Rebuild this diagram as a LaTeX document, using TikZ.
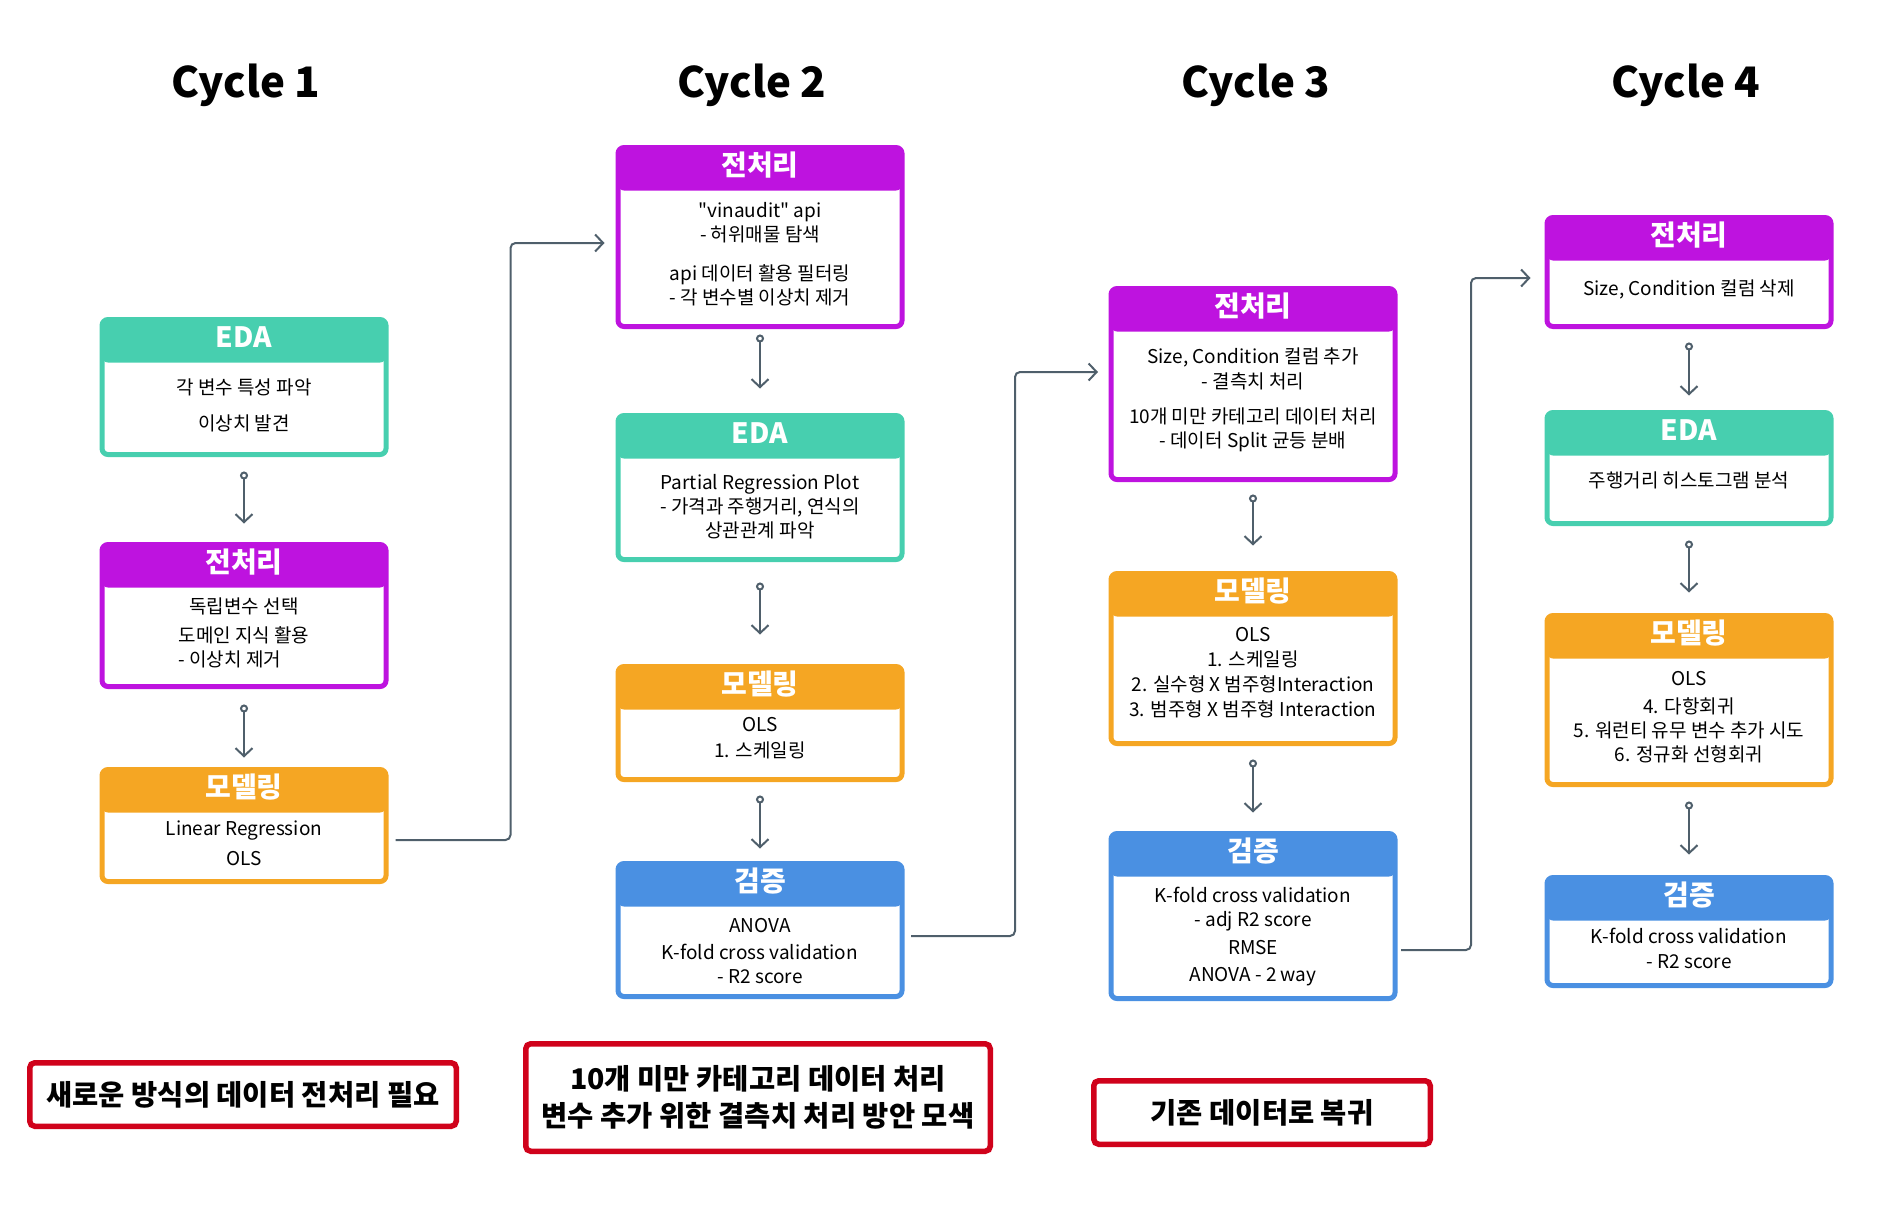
\documentclass[tikz,border=0pt]{standalone}
\usepackage{fontspec}
\setmainfont{Noto Sans CJK KR}[Ligatures=TeXOff]
\usetikzlibrary{arrows.meta}
\definecolor{edac}{HTML}{47CFAF}
\definecolor{prec}{HTML}{BE13DF}
\definecolor{modc}{HTML}{F5A623}
\definecolor{valc}{HTML}{4A90E2}
\definecolor{memoc}{HTML}{D0021B}
\definecolor{linec}{HTML}{4F5F6B}

\begin{document}
\begin{tikzpicture}[x=1pt, y=-1pt,
  box/.style={draw=#1, line width=5pt, rounded corners=6pt, minimum width=284pt, inner sep=0pt,
    path picture={\fill[#1] (path picture bounding box.north west) rectangle ([yshift=-43pt]path picture bounding box.north east);}},
  hd/.style={text=white, font=\fontsize{28}{32}\selectfont\bfseries},
  txt/.style={align=center, inner sep=0pt, font=\fontsize{19}{24}\selectfont},
  cyc/.style={anchor=base, font=\fontsize{42}{50}\selectfont\bfseries},
  flow/.style={line width=2pt, draw=linec, {Circle[open,length=8pt,width=8pt]}-{Straight Barb[length=8pt,width=17pt]}},
  link/.style={line width=2pt, draw=linec, rounded corners=5pt, -{Straight Barb[length=8pt,width=17pt]}},
  memo/.style={draw=memoc, line width=5.5pt, rounded corners=5pt, align=center, inner sep=0pt, font=\fontsize{28.5}{37}\selectfont\bfseries}]
  \useasboundingbox (0,0) rectangle (1877,1205);

  \node [cyc] (c1) at ( 246, 97) {Cycle 1};
  \node [cyc] (c2) at ( 752, 97) {Cycle 2};
  \node [cyc] (c3) at ( 1256, 97) {Cycle 3};
  \node [cyc] (c4) at ( 1686, 97) {Cycle 4};

  % Cycle 1
  \node [box=edac, minimum height=135pt] (eda1) at ( 244, 387) {};
  \node [hd] (eda1h) at ([yshift=-20pt]eda1.north) {EDA};
  \node [txt] (eda1t) at ( 244, 405) {각 변수 특성 파악\\[12pt]이상치 발견};

  \node [box=prec, minimum height=142pt] (pre1) at ( 244, 615.5) {};
  \node [hd] (pre1h) at ([yshift=-20pt]pre1.north) {전처리};
  \node [txt] (pre1t) at ( 244, 636) {독립변수 선택\\[5pt]\begin{tabular}[t]{@{}l@{}}도메인 지식 활용\\- 이상치 제거\end{tabular}};

  \node [box=modc, minimum height=112pt] (mod1) at ( 244, 825.5) {};
  \node [hd] (mod1h) at ([yshift=-20pt]mod1.north) {모델링};
  \node [txt] (mod1t) at ( 244, 843) {Linear Regression\\[6pt]OLS};

  % Cycle 2
  \node [box=prec, minimum height=179pt] (pre2) at ( 760, 237) {};
  \node [hd] (pre2h) at ([yshift=-20pt]pre2.north) {전처리};
  \node [txt] (pre2t) at ( 760, 254.5) {"vinaudit" api\\- 허위매물 탐색\\[15pt]api 데이터 활용 필터링\\- 각 변수별 이상치 제거};

  \node [box=edac, minimum height=144pt] (eda2) at ( 760, 487.5) {};
  \node [hd] (eda2h) at ([yshift=-20pt]eda2.north) {EDA};
  \node [txt] (eda2t) at ( 760, 506.5) {Partial Regression Plot\\- 가격과 주행거리, 연식의\\상관관계 파악};

  \node [box=modc, minimum height=113pt] (mod2) at ( 760, 723) {};
  \node [hd] (mod2h) at ([yshift=-20pt]mod2.north) {모델링};
  \node [txt] (mod2t) at ( 760, 738) {OLS\\[2pt]1. 스케일링};

  \node [box=valc, minimum height=133pt] (val2) at ( 760, 930) {};
  \node [hd] (val2h) at ([yshift=-20pt]val2.north) {검증};
  \node [txt] (val2t) at ( 760, 951.5) {ANOVA\\[3pt]K-fold cross validation\\- R2 score};

  % Cycle 3
  \node [box=prec, minimum height=191pt] (pre3) at ( 1253, 384) {};
  \node [hd] (pre3h) at ([yshift=-20pt]pre3.north) {전처리};
  \node [txt] (pre3t) at ( 1253, 400) {Size, Condition 컬럼 추가\\[1pt]- 결측치 처리\\[11pt]10개 미만 카테고리 데이터 처리\\- 데이터 Split 균등 분배};

  \node [box=modc, minimum height=170pt] (mod3) at ( 1253, 658.5) {};
  \node [hd] (mod3h) at ([yshift=-20pt]mod3.north) {모델링};
  \node [txt] (mod3t) at ( 1253, 672.5) {OLS\\[1pt]1. 스케일링\\[1pt]2. 실수형 X 범주형Interaction\\[1pt]3. 범주형 X 범주형 Interaction};

  \node [box=valc, minimum height=165pt] (val3) at ( 1253, 916) {};
  \node [hd] (val3h) at ([yshift=-20pt]val3.north) {검증};
  \node [txt] (val3t) at ( 1253, 937) {K-fold cross validation\\- adj R2 score\\[4pt]RMSE\\[3pt]ANOVA - 2 way};

  % Cycle 4
  \node [box=prec, minimum height=109pt] (pre4) at ( 1689, 272) {};
  \node [hd] (pre4h) at ([yshift=-20pt]pre4.north) {전처리};
  \node [txt] (pre4t) at ( 1689, 289) {Size, Condition 컬럼 삭제};

  \node [box=edac, minimum height=111pt] (eda4) at ( 1689, 468) {};
  \node [hd] (eda4h) at ([yshift=-20pt]eda4.north) {EDA};
  \node [txt] (eda4t) at ( 1689, 480) {주행거리 히스토그램 분석};

  \node [box=modc, minimum height=169pt] (mod4) at ( 1689, 700) {};
  \node [hd] (mod4h) at ([yshift=-20pt]mod4.north) {모델링};
  \node [txt] (mod4t) at ( 1689, 717) {OLS\\[4pt]4. 다항회귀\\5. 워런티 유무 변수 추가 시도\\6. 정규화 선형회귀};

  \node [box=valc, minimum height=108pt] (val4) at ( 1689, 931.5) {};
  \node [hd] (val4h) at ([yshift=-20pt]val4.north) {검증};
  \node [txt] (val4t) at ( 1689, 948.5) {K-fold cross validation\\[1pt]- R2 score};

  % arrows
  \draw [flow] ([yshift=-14.5pt]eda1.south) -- ([yshift=18.5pt]pre1.north);
  \draw [flow] ([yshift=-15.5pt]pre1.south) -- ([yshift=9.5pt]mod1.north);
  \draw [flow] ([yshift=-5.5pt]pre2.south) -- ([yshift=24.5pt]eda2.north);
  \draw [flow] ([yshift=-20.5pt]eda2.south) -- ([yshift=29.5pt]mod2.north);
  \draw [flow] ([yshift=-13.5pt]mod2.south) -- ([yshift=12.5pt]val2.north);
  \draw [flow] ([yshift=-12.5pt]pre3.south) -- ([yshift=25.5pt]mod3.north);
  \draw [flow] ([yshift=-13.5pt]mod3.south) -- ([yshift=18.5pt]val3.north);
  \draw [flow] ([yshift=-13.5pt]pre4.south) -- ([yshift=14.5pt]eda4.north);
  \draw [flow] ([yshift=-14.5pt]eda4.south) -- ([yshift=20.5pt]mod4.north);
  \draw [flow] ([yshift=-14.5pt]mod4.south) -- ([yshift=20.5pt]val4.north);

  \draw [link] ([xshift=7pt,yshift=-14.5pt]mod1.east) -- ++(115pt,0) |- ([xshift=-11pt,yshift=-6pt]pre2.west);
  \draw [link] ([xshift=6.5pt,yshift=-6pt]val2.east) -- ++(104pt,0) |- ([xshift=-10.5pt,yshift=12pt]pre3.west);
  \draw [link] ([xshift=3.5pt,yshift=-34pt]val3.east) -- ++(70pt,0) |- ([xshift=-14pt,yshift=-6pt]pre4.west);

  % notes
  \node [memo, minimum width=426.5pt, minimum height=63.5pt] (n1) at ( 243, 1094.5) {새로운 방식의 데이터 전처리 필요};
  \node [memo, minimum width=464.5pt, minimum height=107.5pt] (n2) at ( 758, 1097.5) {10개 미만 카테고리 데이터 처리\\변수 추가 위한 결측치 처리 방안 모색};
  \node [memo, minimum width=336.5pt, minimum height=63.5pt] (n3) at ( 1262, 1112.5) {기존 데이터로 복귀};

\end{tikzpicture}
\end{document}
